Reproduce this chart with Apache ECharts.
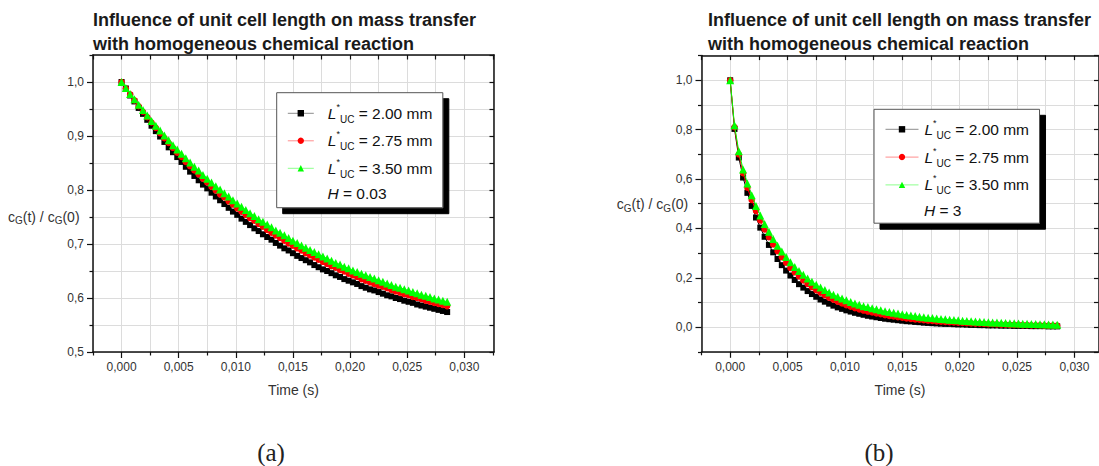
<!DOCTYPE html>
<html>
<head>
<meta charset="utf-8">
<script src="https://cdn.jsdelivr.net/npm/echarts@6/dist/echarts.min.js"></script>
<style>
html, body { margin: 0; padding: 0; background: #ffffff; }
#chart { width: 1099px; height: 466px; }
</style>
</head>
<body>
<div id="chart"></div>
<script>
// Sampling instants, s
const time = [
  0, 0.000375, 0.00075, 0.001125, 0.0015, 0.001875, 0.00225, 0.002625, 0.003, 0.003375,
  0.00375, 0.004125, 0.0045, 0.004875, 0.00525, 0.005625, 0.006, 0.006375, 0.00675, 0.007125,
  0.0075, 0.007875, 0.00825, 0.008625, 0.009, 0.009375, 0.00975, 0.010125, 0.0105, 0.010875,
  0.01125, 0.011625, 0.012, 0.012375, 0.01275, 0.013125, 0.0135, 0.013875, 0.01425, 0.014625,
  0.015, 0.015375, 0.01575, 0.016125, 0.0165, 0.016875, 0.01725, 0.017625, 0.018, 0.018375,
  0.01875, 0.019125, 0.0195, 0.019875, 0.02025, 0.020625, 0.021, 0.021375, 0.02175, 0.022125,
  0.0225, 0.022875, 0.02325, 0.023625, 0.024, 0.024375, 0.02475, 0.025125, 0.0255, 0.025875,
  0.02625, 0.026625, 0.027, 0.027375, 0.02775, 0.028125, 0.0285
];

// (a) H = 0.03 : cG(t)/cG(0) for L*UC = 2.00 / 2.75 / 3.50 mm
const a_L200 = [
  1.000, 0.988, 0.975, 0.964, 0.952, 0.941, 0.930, 0.919, 0.909, 0.899,
  0.889, 0.879, 0.870, 0.861, 0.852, 0.843, 0.834, 0.826, 0.818, 0.810,
  0.803, 0.795, 0.788, 0.781, 0.774, 0.767, 0.760, 0.754, 0.747, 0.741,
  0.735, 0.729, 0.724, 0.718, 0.713, 0.708, 0.702, 0.697, 0.692, 0.688,
  0.683, 0.678, 0.674, 0.670, 0.666, 0.661, 0.657, 0.653, 0.650, 0.646,
  0.642, 0.639, 0.635, 0.632, 0.629, 0.626, 0.622, 0.619, 0.616, 0.614,
  0.611, 0.608, 0.605, 0.603, 0.600, 0.598, 0.595, 0.593, 0.591, 0.588,
  0.586, 0.584, 0.582, 0.580, 0.578, 0.576, 0.574
];
const a_L275 = [
  1.000, 0.988, 0.977, 0.966, 0.955, 0.945, 0.935, 0.925, 0.915, 0.905,
  0.896, 0.887, 0.878, 0.869, 0.861, 0.852, 0.844, 0.836, 0.829, 0.821,
  0.814, 0.806, 0.799, 0.792, 0.786, 0.779, 0.773, 0.766, 0.760, 0.754,
  0.748, 0.743, 0.737, 0.732, 0.726, 0.721, 0.716, 0.711, 0.706, 0.701,
  0.697, 0.692, 0.688, 0.683, 0.679, 0.675, 0.671, 0.667, 0.663, 0.659,
  0.656, 0.652, 0.649, 0.645, 0.642, 0.639, 0.635, 0.632, 0.629, 0.626,
  0.623, 0.621, 0.618, 0.615, 0.612, 0.610, 0.607, 0.605, 0.602, 0.600,
  0.598, 0.595, 0.593, 0.591, 0.589, 0.587, 0.585
];
const a_L350 = [
  1.000, 0.989, 0.978, 0.968, 0.958, 0.948, 0.938, 0.928, 0.919, 0.910,
  0.901, 0.892, 0.883, 0.875, 0.867, 0.859, 0.851, 0.843, 0.836, 0.828,
  0.821, 0.814, 0.807, 0.801, 0.794, 0.788, 0.781, 0.775, 0.769, 0.763,
  0.757, 0.752, 0.746, 0.741, 0.736, 0.731, 0.725, 0.721, 0.716, 0.711,
  0.706, 0.702, 0.697, 0.693, 0.689, 0.685, 0.681, 0.677, 0.673, 0.669,
  0.665, 0.662, 0.658, 0.655, 0.651, 0.648, 0.645, 0.642, 0.639, 0.636,
  0.633, 0.630, 0.627, 0.624, 0.621, 0.619, 0.616, 0.614, 0.611, 0.609,
  0.606, 0.604, 0.602, 0.599, 0.597, 0.595, 0.593
];

// (b) H = 3
const b_L200 = [
  1.000, 0.803, 0.687, 0.606, 0.544, 0.491, 0.444, 0.403, 0.366, 0.333,
  0.303, 0.276, 0.251, 0.229, 0.209, 0.191, 0.174, 0.160, 0.146, 0.134,
  0.123, 0.112, 0.103, 0.095, 0.087, 0.080, 0.074, 0.068, 0.063, 0.058,
  0.054, 0.050, 0.046, 0.043, 0.040, 0.037, 0.034, 0.032, 0.030, 0.028,
  0.026, 0.024, 0.023, 0.021, 0.020, 0.018, 0.017, 0.016, 0.015, 0.014,
  0.013, 0.013, 0.012, 0.011, 0.011, 0.010, 0.009, 0.009, 0.008, 0.008,
  0.007, 0.007, 0.007, 0.006, 0.006, 0.006, 0.005, 0.005, 0.005, 0.005,
  0.004, 0.004, 0.004, 0.004, 0.003, 0.003, 0.003
];
const b_L275 = [
  1.000, 0.810, 0.700, 0.624, 0.565, 0.515, 0.471, 0.432, 0.396, 0.364,
  0.335, 0.308, 0.283, 0.261, 0.240, 0.222, 0.205, 0.189, 0.175, 0.162,
  0.150, 0.139, 0.129, 0.119, 0.111, 0.103, 0.096, 0.089, 0.083, 0.077,
  0.072, 0.067, 0.063, 0.059, 0.055, 0.052, 0.048, 0.045, 0.043, 0.040,
  0.038, 0.035, 0.033, 0.031, 0.030, 0.028, 0.026, 0.025, 0.023, 0.022,
  0.021, 0.020, 0.019, 0.018, 0.017, 0.016, 0.015, 0.014, 0.014, 0.013,
  0.012, 0.012, 0.011, 0.010, 0.010, 0.009, 0.009, 0.009, 0.008, 0.008,
  0.007, 0.007, 0.007, 0.006, 0.006, 0.006, 0.006
];
const b_L350 = [
  1.000, 0.818, 0.712, 0.639, 0.582, 0.534, 0.491, 0.452, 0.418, 0.386,
  0.357, 0.330, 0.306, 0.284, 0.263, 0.244, 0.227, 0.212, 0.197, 0.184,
  0.172, 0.160, 0.150, 0.140, 0.131, 0.123, 0.116, 0.109, 0.102, 0.096,
  0.091, 0.085, 0.081, 0.076, 0.072, 0.068, 0.064, 0.061, 0.058, 0.055,
  0.052, 0.049, 0.047, 0.045, 0.042, 0.040, 0.038, 0.037, 0.035, 0.033,
  0.032, 0.030, 0.029, 0.028, 0.026, 0.025, 0.024, 0.023, 0.022, 0.021,
  0.020, 0.019, 0.019, 0.018, 0.017, 0.016, 0.016, 0.015, 0.014, 0.014,
  0.013, 0.013, 0.012, 0.012, 0.011, 0.011, 0.010
];

const cellLengths = ['2.00', '2.75', '3.50'];
const henryValues = ['0.03', '3'];

// Tick positions
const xMajorTicks = [0, 0.005, 0.010, 0.015, 0.020, 0.025, 0.030];
const xMinorTicks = [-0.0025, 0.0025, 0.0075, 0.0125, 0.0175, 0.0225, 0.0275, 0.0325];
const aYMajorTicks = [0.5, 0.6, 0.7, 0.8, 0.9, 1.0];
const aYMinorTicks = [0.55, 0.65, 0.75, 0.85, 0.95, 1.05];
const bYMajorTicks = [0, 0.2, 0.4, 0.6, 0.8, 1.0];
const bYMinorTicks = [-0.1, 0.1, 0.3, 0.5, 0.7, 0.9, 1.1];

const FONT = '"Liberation Sans", Arial, Helvetica, sans-serif';
const INK = '#111111';
const LABEL = '#333333';
const GRIDLINE = '#dcdcdc';
const COLORS = ['#000000', '#ff0000', '#00ff00'];
const SYMBOLS = ['rect', 'circle', 'triangle'];
const SYMBOL_SIZES = [6, 6.5, 8];

// Three stacked axes per side: labelled main axis, minor-tick axis, mirrored frame axis.
function axisSet(gridIndex, isX, min, max, major, minor, decimals, name, nameGap) {
  const fmt = v => v.toFixed(decimals).replace('.', ',');
  const mainPos = isX ? 'bottom' : 'left';
  const mirrorPos = isX ? 'top' : 'right';
  const main = {
    type: 'value', gridIndex, min, max, position: mainPos,
    axisLine: { show: true, onZero: false, lineStyle: { color: INK, width: 1.5 } },
    axisTick: { show: true, inside: false, length: 6, customValues: major,
                lineStyle: { color: INK, width: 1.2 } },
    axisLabel: { show: true, customValues: major, formatter: fmt, margin: 9,
                 color: LABEL, fontSize: 12, fontFamily: FONT },
    splitLine: { show: true, lineStyle: { color: GRIDLINE, width: 1 } },
    minorTick: { show: false }, minorSplitLine: { show: false }
  };
  if (name) {
    main.name = name;
    main.nameLocation = 'middle';
    main.nameGap = nameGap;
    main.nameTextStyle = { fontSize: 14, color: LABEL, fontFamily: FONT };
  }
  const minorAxis = {
    type: 'value', gridIndex, min, max, position: mainPos,
    axisLine: { show: false, onZero: false },
    axisTick: { show: true, inside: false, length: 3.5, customValues: minor,
                lineStyle: { color: INK, width: 1.2 } },
    axisLabel: { show: false },
    splitLine: { show: true, lineStyle: { color: GRIDLINE, width: 1 } }
  };
  const mirror = {
    type: 'value', gridIndex, min, max, position: mirrorPos,
    axisLine: { show: true, onZero: false, lineStyle: { color: INK, width: 1.5 } },
    axisTick: { show: true, inside: true, length: 4.5, customValues: major.concat(minor),
                lineStyle: { color: INK, width: 1.2 } },
    axisLabel: { show: false },
    splitLine: { show: false }
  };
  return [main, minorAxis, mirror];
}

const pairs = vals => time.map((t, i) => [t, vals[i]]);

function seriesSet(prefix, lists, axisIndex) {
  return lists.map((vals, k) => ({
    type: 'line',
    name: prefix + k,
    xAxisIndex: axisIndex, yAxisIndex: axisIndex,
    data: pairs(vals),
    symbol: SYMBOLS[k], symbolSize: SYMBOL_SIZES[k], showSymbol: true,
    itemStyle: { color: COLORS[k], borderWidth: 0 },
    lineStyle: { color: COLORS[k], width: 1 },
    emphasis: { disabled: true },
    z: 3 + k
  }));
}

const legendRich = lPad => ({
  l: { fontSize: 15.5, fontStyle: 'italic', fontFamily: FONT, color: INK, lineHeight: 22, padding: [0, 0, 0, lPad] },
  sup: { fontSize: 9, fontFamily: FONT, color: INK, lineHeight: 9, verticalAlign: 'top' },
  sub: { fontSize: 10, fontFamily: FONT, color: INK, lineHeight: 10, verticalAlign: 'bottom' },
  v: { fontSize: 15.5, fontFamily: FONT, color: INK, lineHeight: 22 }
});
const legendLabel = name => {
  const k = +name.slice(1);
  return '{l|L}{sup|*}{sub|UC}{v| = ' + cellLengths[k] + ' mm}';
};

function legendBox(prefix, left, top, itemWidth, gap, padding, lPad) {
  return {
    data: [0, 1, 2].map(k => prefix + k),
    orient: 'vertical', left, top,
    itemWidth, itemHeight: 8, itemGap: gap,
    padding,
    backgroundColor: '#ffffff', borderColor: '#555555', borderWidth: 1,
    shadowColor: '#000000', shadowBlur: 0, shadowOffsetX: 6, shadowOffsetY: 6,
    selectedMode: false,
    lineStyle: { width: 1, opacity: 0.45 },
    formatter: legendLabel,
    textStyle: { rich: legendRich(lPad) }
  };
}

const yTitleStyle = (x, y) => ({
  type: 'text', x, y, silent: true,
  style: {
    text: '{m|c}{s|G}{m|(t) / c}{s|G}{m|(0)}',
    align: 'left', verticalAlign: 'middle',
    rich: {
      m: { fontSize: 14, fontFamily: FONT, fill: LABEL, lineHeight: 18 },
      s: { fontSize: 10, fontFamily: FONT, fill: LABEL, lineHeight: 10, verticalAlign: 'bottom' }
    }
  }
});
const henryText = (x, y, h) => ({
  type: 'text', x, y, silent: true, z: 20,
  style: {
    text: '{i|H}{n| = ' + h + '}',
    align: 'left', verticalAlign: 'middle',
    rich: {
      i: { fontSize: 15.5, fontStyle: 'italic', fontFamily: FONT, fill: INK },
      n: { fontSize: 15.5, fontFamily: FONT, fill: INK }
    }
  }
});
const caption = (x, y, t) => ({
  type: 'text', x, y, silent: true,
  style: { text: t, align: 'center', verticalAlign: 'middle',
           fontSize: 25, fontFamily: '"Liberation Serif", "DejaVu Serif", serif', fill: '#222222' }
});

const titleText = 'Influence of unit cell length on mass transfer\nwith homogeneous chemical reaction';
const titleStyle = { fontFamily: FONT, fontSize: 18, fontWeight: 'bold', color: '#1a1a1a', lineHeight: 24 };

const axA_x = axisSet(0, true, -0.0025, 0.0326, xMajorTicks, xMinorTicks, 3, 'Time (s)', 31);
const axA_y = axisSet(0, false, 0.5, 1.05, aYMajorTicks, aYMinorTicks, 1);
const axB_x = axisSet(1, true, -0.0025, 0.0321, xMajorTicks, xMinorTicks, 3, 'Time (s)', 31);
const axB_y = axisSet(1, false, -0.1, 1.1, bYMajorTicks, bYMinorTicks, 1);

const option = {
  animation: false,
  backgroundColor: '#ffffff',
  title: [
    { text: titleText, left: 93, top: 8, padding: 0, textStyle: titleStyle },
    { text: titleText, left: 708, top: 8, padding: 0, textStyle: titleStyle }
  ],
  grid: [
    { left: 93, top: 55, width: 401, height: 297, containLabel: false, outerBoundsMode: 'none' },
    { left: 701.5, top: 55.6, width: 397, height: 296.2, containLabel: false, outerBoundsMode: 'none' }
  ],
  xAxis: axA_x.concat(axB_x),
  yAxis: axA_y.concat(axB_y),
  legend: [
    legendBox('a', 276.7, 92.7, 26, 5.5, [9.6, 10.5, 28.4, 10.6], 9),
    legendBox('b', 874, 109.3, 33, 5.8, [9, 10.5, 27.3, 11], 1)
  ],
  graphic: [
    yTitleStyle(8, 216.7),
    yTitleStyle(616.7, 204),
    henryText(327.5, 193.3, henryValues[0]),
    henryText(924, 210, henryValues[1]),
    caption(271, 452, '(a)'),
    caption(879, 452, '(b)')
  ],
  series: seriesSet('a', [a_L200, a_L275, a_L350], 0)
    .concat(seriesSet('b', [b_L200, b_L275, b_L350], 3))
};

const chart = echarts.init(document.getElementById('chart'), null, { renderer: 'svg' });
chart.setOption(option);
</script>
</body>
</html>
